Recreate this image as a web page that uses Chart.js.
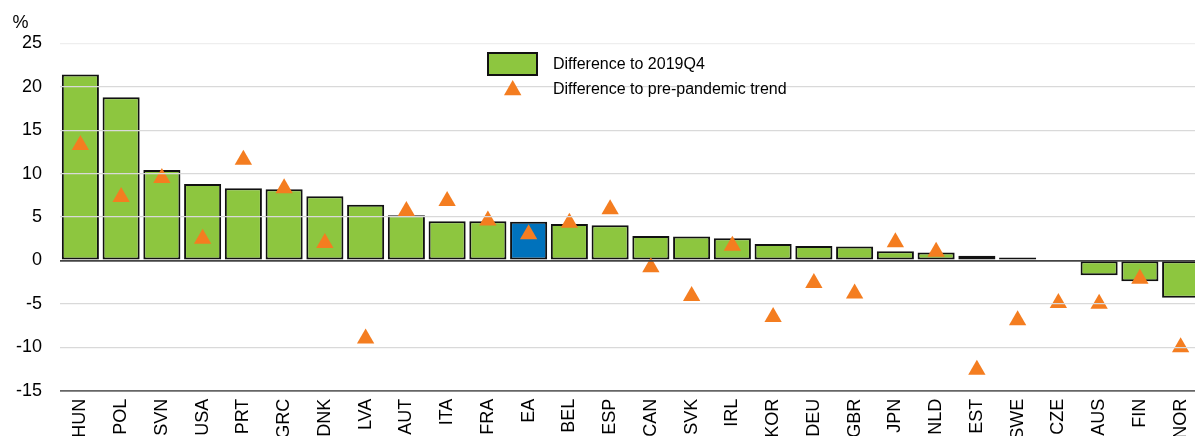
<!DOCTYPE html>
<html><head><meta charset="utf-8">
<script src="https://cdn.jsdelivr.net/npm/chart.js@4/dist/chart.umd.min.js"></script>
<style>
html,body{margin:0;padding:0;background:#fff;overflow:hidden;}
#wrap{position:relative;width:1195px;height:436px;overflow:hidden;background:#fff;}
#c{position:absolute;left:0;top:0;}
</style></head><body>
<div id="wrap"><canvas id="c" width="1201" height="460" style="width:1201px;height:460px"></canvas></div>
<script>
const categories = ['HUN','POL','SVN','USA','PRT','GRC','DNK','LVA','AUT','ITA','FRA','EA','BEL','ESP','CAN','SVK','IRL','KOR','DEU','GBR','JPN','NLD','EST','SWE','CZE','AUS','FIN','NOR'];
const diffTo2019Q4 = [21.4,18.8,10.4,8.8,8.3,8.2,7.4,6.4,5.2,4.5,4.5,4.45,4.2,4.05,2.8,2.75,2.55,1.9,1.65,1.6,1.05,0.9,0.55,0.35,-0.1,-1.7,-2.4,-4.3];
const diffToTrend = [13.3,7.3,9.5,2.5,11.6,8.3,2.0,-9.0,5.7,6.85,4.6,3.0,4.35,5.9,-0.8,-4.1,1.7,-6.5,-2.6,-3.8,2.1,1.0,-12.6,-6.9,-4.9,-5.0,-2.1,-10.0];
const seriesNames = ['Difference to 2019Q4','Difference to pre-pandemic trend'];
const yMin = -15, yMax = 25, yStep = 5;
const unitLabel = '%';
const highlightCategory = 'EA';

const GREEN = '#8DC63F', BLUE = '#0072BC', ORANGE = '#F47D20';
const FONT = '"Liberation Sans", Arial, Helvetica, sans-serif';

const extras = {
  id: 'extras',
  afterDraw(chart) {
    const ctx = chart.ctx;
    ctx.save();
    ctx.fillStyle = '#000';
    ctx.font = '18px ' + FONT;
    ctx.textAlign = 'left';
    ctx.textBaseline = 'alphabetic';
    ctx.fillText(unitLabel, 12.5, 27.5);
    // legend
    const ds = chart.data.datasets;
    const barDs = ds.find(d => d.type === 'bar');
    const triDs = ds.find(d => d.type === 'line');
    ctx.fillStyle = GREEN;
    ctx.fillRect(487, 52, 51, 24);
    ctx.strokeStyle = '#111';
    ctx.lineWidth = 2;
    ctx.strokeRect(488, 53, 49, 22);
    ctx.fillStyle = ORANGE;
    ctx.beginPath();
    ctx.moveTo(512.7, 80);
    ctx.lineTo(521.4, 95.3);
    ctx.lineTo(504, 95.3);
    ctx.closePath();
    ctx.fill();
    ctx.fillStyle = '#000';
    ctx.font = '16px ' + FONT;
    ctx.textBaseline = 'middle';
    ctx.fillText(barDs.label, 553, 65);
    ctx.fillText(triDs.label, 553, 90);
    ctx.restore();
  }
};

new Chart(document.getElementById('c'), {
  data: {
    labels: categories,
    datasets: [
      {
        type: 'line',
        label: seriesNames[1],
        data: diffToTrend,
        showLine: false,
        pointStyle: 'triangle',
        pointRadius: 10,
        pointHoverRadius: 10,
        pointBackgroundColor: ORANGE,
        pointBorderWidth: 0,
        borderColor: ORANGE,
        clip: false,
        order: 1
      },
      {
        type: 'bar',
        label: seriesNames[0],
        data: diffTo2019Q4,
        backgroundColor: categories.map(c => c === highlightCategory ? BLUE : GREEN),
        borderColor: '#111',
        borderWidth: 2,
        borderSkipped: false,
        categoryPercentage: 1,
        barPercentage: 0.91,
        order: 2
      }
    ]
  },
  options: {
    responsive: false,
    animation: false,
    events: [],
    layout: { autoPadding: false, padding: { top: 43.3, left: 0, right: 0, bottom: 0 } },
    plugins: { legend: { display: false }, tooltip: { enabled: false }, title: { display: false } },
    scales: {
      x: {
        type: 'category',
        grid: { display: false, drawTicks: false },
        border: { display: false },
        ticks: {
          autoSkip: false, minRotation: 90, maxRotation: 90, padding: 8,
          color: '#000', font: { family: FONT, size: 18 }
        },
        afterFit: s => { s.height = 69.3; s.paddingLeft = 0; s.paddingRight = 0; }
      },
      y: {
        min: yMin, max: yMax,
        grid: {
          z: 1,
          drawTicks: false,
          color: c => {
            const v = c.tick && c.tick.value;
            if (v === 0) return '#444';
            if (v === yMin) return '#666';
            if (v === yMax) return '#eeeeee';
            return '#d9d9d9';
          },
          lineWidth: c => {
            const v = c.tick && c.tick.value;
            return (v === 0 || v === yMin) ? 1.8 : 1.2;
          }
        },
        border: { display: false },
        ticks: {
          stepSize: yStep, padding: 18,
          color: '#000', font: { family: FONT, size: 18 }
        },
        afterFit: s => { s.width = 60; }
      }
    }
  },
  plugins: [extras]
});
</script>
</body></html>
